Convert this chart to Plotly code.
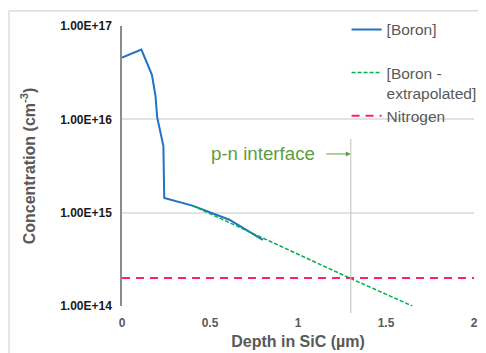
import plotly.graph_objects as go

# Data
boron_depth = [0.0, 0.11, 0.17, 0.19, 0.20, 0.235, 0.24, 0.40, 0.61, 0.72, 0.80]
boron_conc = [4.6e16, 5.6e16, 3.0e16, 1.8e16, 1.05e16, 5.2e15, 1.44e15, 1.19e15, 8.4e14, 6.3e14, 5.1e14]

extrap_depth = [0.40, 0.80, 1.30, 1.65]
extrap_conc = [1.19e15, 5.35e14, 1.97e14, 1.0e14]

nitrogen_depth = [0.0, 2.0]
nitrogen_conc = [2.0e14, 2.0e14]

interface_depth = 1.3

y_tick_vals = [1e14, 1e15, 1e16, 1e17]
y_tick_text = ["1.00E+14", "1.00E+15", "1.00E+16", "1.00E+17"]
x_tick_vals = [0, 0.5, 1, 1.5, 2]
x_tick_text = ["0", "0.5", "1", "1.5", "2"]

FONT = "Liberation Sans, Arial, sans-serif"
GRAY = "#595959"
GREEN_TXT = "#5e9e3e"

fig = go.Figure()
fig.add_trace(go.Scatter(x=boron_depth, y=boron_conc, mode="lines", name="[Boron]",
                         line=dict(color="#1F72C4", width=2), legendgroup="a"))
fig.add_trace(go.Scatter(x=extrap_depth, y=extrap_conc, mode="lines", name="[Boron -<br>extrapolated]",
                         line=dict(color="#00B050", width=1.5, dash="4px,2px"), legendgroup="b"))
fig.add_trace(go.Scatter(x=nitrogen_depth, y=nitrogen_conc, mode="lines", name="Nitrogen",
                         line=dict(color="#FF1F6E", width=2, dash="8px,6px"), legendgroup="b"))

# page body has an 8px margin, so the figure is sized to fit the remaining window
fig.update_layout(
    width=478, height=345,
    margin=dict(l=114, r=12, t=18, b=47, autoexpand=False),
    paper_bgcolor="white", plot_bgcolor="white",
    font=dict(family=FONT, color=GRAY),
    showlegend=True,
    legend=dict(x=0.638, y=1.047, xanchor="left", yanchor="top",
                font=dict(size=15.5, color=GRAY), bgcolor="rgba(0,0,0,0)",
                tracegroupgap=20, valign="top", traceorder="grouped"),
    xaxis=dict(range=[0, 2], tickvals=x_tick_vals, ticktext=x_tick_text,
               showgrid=False, zeroline=False, showline=False,
               tickfont=dict(size=12, color=GRAY, family=FONT, weight="bold"),
               ticklabelstandoff=8,
               title=dict(text="<b>Depth in SiC (µm)</b>", font=dict(size=16, color=GRAY), standoff=6)),
    yaxis=dict(type="log", range=[14, 17], tickvals=y_tick_vals, ticktext=y_tick_text,
               showgrid=True, gridcolor="#e3e3e3", gridwidth=1.5,
               zeroline=False, showline=True, linecolor="#8c8c8c", linewidth=1.5,
               tickfont=dict(size=12, color="#1a1a1a", family=FONT, weight="bold"),
               ticklabelstandoff=6,
               title=dict(text="<b>Concentration (cm<sup>-3</sup>)</b>", font=dict(size=16, color=GRAY), standoff=21)),
)

# p-n interface vertical line
fig.add_shape(type="line", xref="x", yref="paper", x0=interface_depth, x1=interface_depth,
              y0=-0.025, y1=0.596, line=dict(color="#bfbfbf", width=1))

# annotation text with arrow pointing at the interface
fig.add_annotation(x=interface_depth, xref="x", y=0.543, yref="paper",
                   ax=-88, ay=0, text="p-n interface", showarrow=True, arrowhead=2, arrowsize=1,
                   arrowwidth=1, arrowcolor=GREEN_TXT, startstandoff=10,
                   font=dict(size=18.7, color=GREEN_TXT, family=FONT))

# outer chart border (top and left visible)
fig.add_shape(type="line", xref="paper", yref="paper", x0=-0.321, x1=1.1,
              y0=1.054, y1=1.054, line=dict(color="#d4d4d4", width=1.2))
fig.add_shape(type="line", xref="paper", yref="paper", x0=-0.321, x1=-0.321,
              y0=1.054, y1=-0.3, line=dict(color="#d4d4d4", width=1.2))

fig.write_html("out.html")
